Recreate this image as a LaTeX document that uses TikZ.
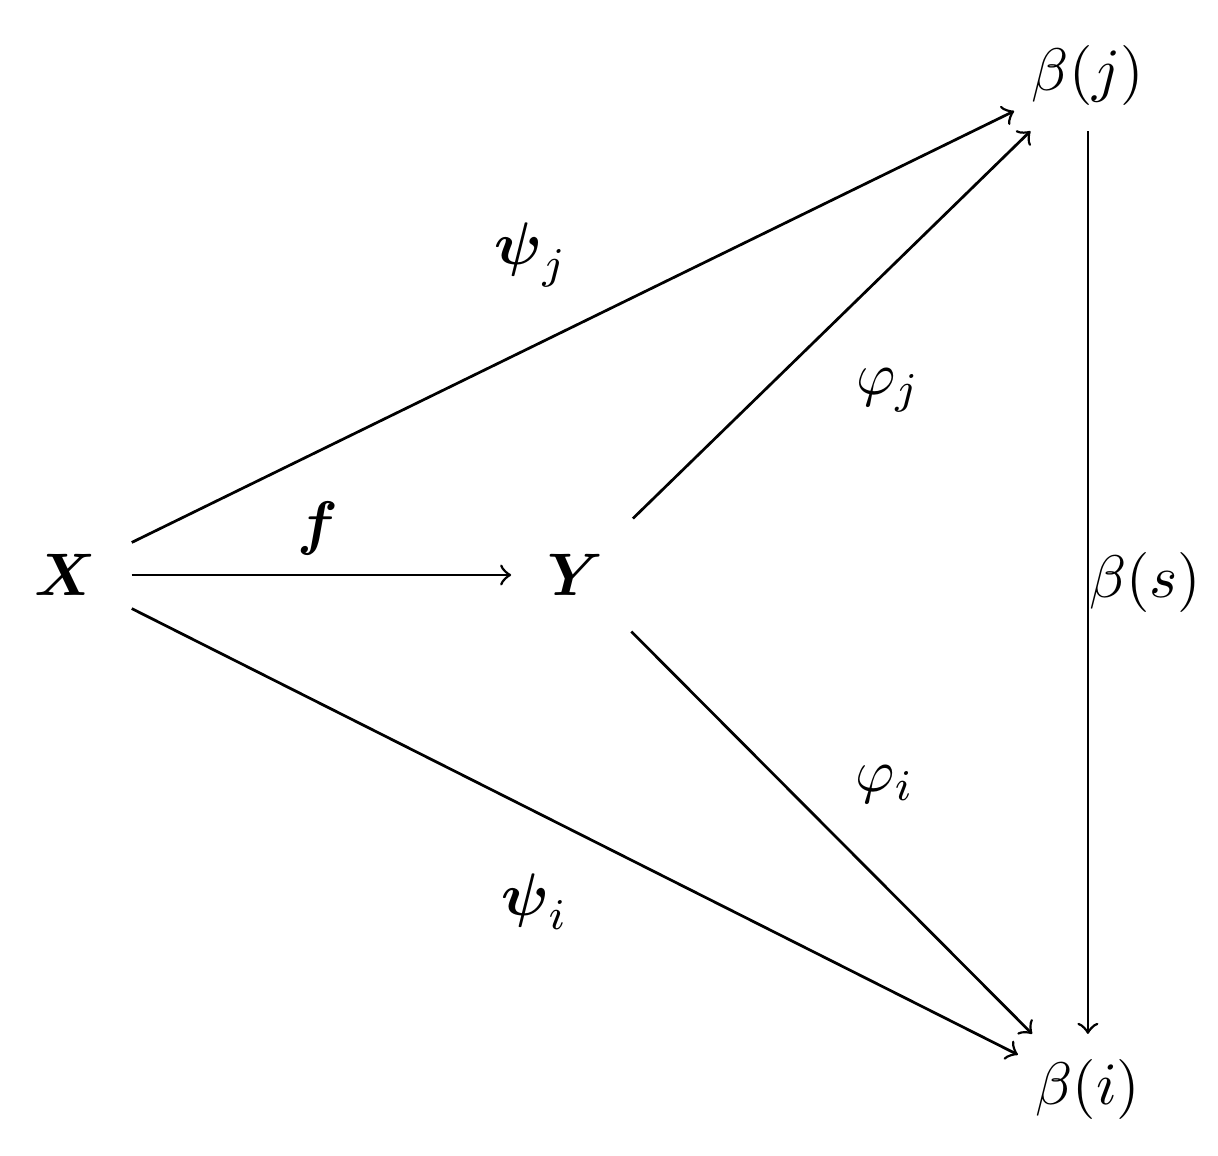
\documentclass[tikz,border=0pt]{standalone}
\usepackage{amsmath}
\usetikzlibrary{arrows.meta}

\begin{document}
\begin{tikzpicture}[
    line width=0.5pt, >=to,
    font=\fontsize{11}{13}\selectfont,
    obj/.style={inner sep=6.3pt},
    img/.style={inner xsep=3pt, inner ysep=4.5pt},
    lab/.style={inner sep=0pt}]
  % fixed canvas, 1218 x 1156 px at 156 px per cm
  \path[use as bounding box] (0,0) rectangle (7.808,7.410);

  % ================= objects =================
  \node[obj] (X)  at (0.417,3.724) {$\boldsymbol{X}$};
  \node[obj] (Y)  at (3.686,3.724) {$\boldsymbol{Y}$};
  \node[img] (Bj) at (6.974,6.929) {$\beta(j)$};
  \node[img] (Bi) at (6.974,0.423) {$\beta(i)$};

  % ================= morphisms =================
  \draw[->] (X) -- node[lab, midway, shift={(-0.02,0.30)}] {$\boldsymbol{f}$} (Y);
  \draw[->] (X) -- node[lab, midway, shift={(-0.27,0.46)}] {$\boldsymbol{\psi}_j$} (Bj);
  \draw[->] (X) -- node[lab, midway, shift={(-0.26,-0.45)}] {$\boldsymbol{\psi}_i$} (Bi);
  \draw[->] (Y) -- node[lab, midway, shift={(0.36,-0.423)}] {$\varphi_j$} (Bj);
  \draw[->] (Y) -- node[lab, midway, shift={(0.34,0.31)}] {$\varphi_i$} (Bi);
  \draw[->] (Bj) -- node[lab, midway, anchor=west] {$\beta(s)$} (Bi);
\end{tikzpicture}
\end{document}
